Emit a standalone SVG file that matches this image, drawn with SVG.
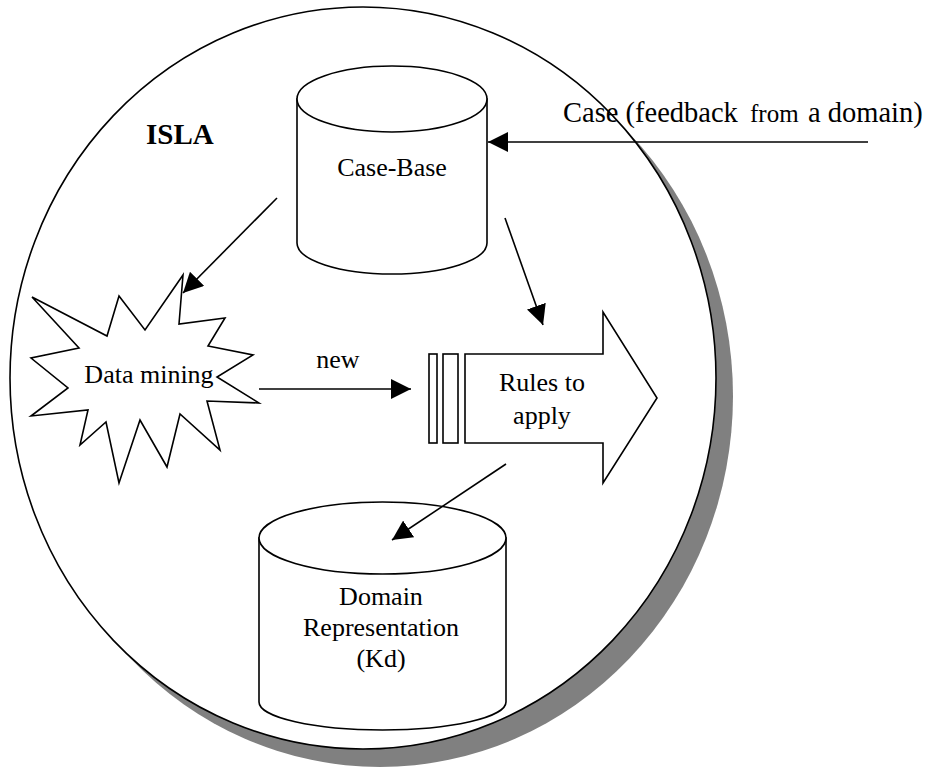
<svg xmlns="http://www.w3.org/2000/svg" width="927" height="767" viewBox="0 0 927 767">
<style>
.s{fill:#fff;stroke:#000;stroke-width:1.6}
.c{fill:none;stroke:#000;stroke-width:1.6}
.t{font-family:"Liberation Serif","Times New Roman",serif;font-size:26px;fill:#000}
</style>
<defs>
<marker id="ah" markerUnits="userSpaceOnUse" markerWidth="20" markerHeight="20" refX="20" refY="10" orient="auto">
<path d="M0,0 L20,10 L0,20 Z" fill="#000"/>
</marker>
</defs>
<rect width="927" height="767" fill="#fff"/>
<g id="isla">
<ellipse cx="380" cy="396" rx="353" ry="371" fill="#808080"/>
<ellipse cx="363" cy="378" rx="353" ry="371" class="s"/>
<text x="146" y="144" class="t" style="font-weight:bold;font-size:29px">ISLA</text>
</g>
<g id="case-base">
<path d="M297,99 L297,243 A95,31 0 0 0 487,243 L487,99 Z" class="s"/>
<ellipse cx="392" cy="99" rx="95" ry="33" class="s"/>
<text x="392" y="176" class="t" text-anchor="middle">Case-Base</text>
</g>
<g id="data-mining">
<polygon points="32,297 107,336 119,296 145,330 183,275 179,324 225,318 208,346 253,355 217,377 259,403 207,401 220,450 180,414 167,467 140,420 119,483 106,422 80,445 88,410 31,416 68,388 31,358 79,348" class="s"/>
<text x="149" y="383" class="t" text-anchor="middle">Data mining</text>
</g>
<g id="rules">
<rect x="429" y="354" width="8" height="89" class="s"/>
<rect x="443" y="354" width="15" height="89" class="s"/>
<path d="M465,354 L603,354 L603,312 L657,398 L603,483 L603,443 L465,443 Z" class="s"/>
<text x="542" y="391" class="t" text-anchor="middle">Rules to</text>
<text x="542" y="424" class="t" text-anchor="middle">apply</text>
</g>
<g id="domain">
<path d="M259,538 L259,702 A123.5,28 0 0 0 506,702 L506,538 Z" class="s"/>
<ellipse cx="382.5" cy="538" rx="123.5" ry="36" class="s"/>
<text x="381" y="605" class="t" text-anchor="middle">Domain</text>
<text x="381" y="636" class="t" text-anchor="middle">Representation</text>
<text x="381" y="667" class="t" text-anchor="middle">(Kd)</text>
</g>
<g id="case-input">
<text x="563" y="122" class="t" style="font-size:28.5px">Case (feedback</text>
<text x="750" y="122" class="t" style="font-size:25px">from</text>
<text x="808" y="122" class="t" style="font-size:28.5px">a domain)</text>
</g>
<g id="connectors">
<line x1="868" y1="142" x2="488" y2="142" class="c" marker-end="url(#ah)"/>
<line x1="277" y1="198" x2="183" y2="293" class="c" marker-end="url(#ah)"/>
<line x1="505" y1="218" x2="543" y2="325" class="c" marker-end="url(#ah)"/>
<line x1="259" y1="389" x2="411" y2="389" class="c" marker-end="url(#ah)"/>
<line x1="506" y1="464" x2="392" y2="540" class="c" marker-end="url(#ah)"/>
<text x="338" y="368" class="t" text-anchor="middle">new</text>
</g>
</svg>
